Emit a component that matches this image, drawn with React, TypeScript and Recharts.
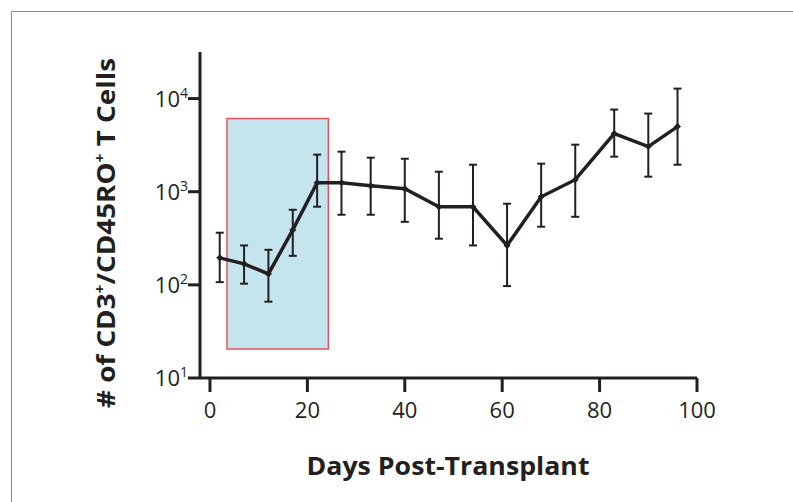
import React from "react";
import { ComposedChart, Line, XAxis, YAxis, ErrorBar, ReferenceArea } from "recharts";

const days = [2, 7, 12, 17, 22, 27, 33, 40, 47, 54, 61, 68, 75, 83, 90, 96];
const cells = [195, 168, 131, 389, 1250, 1250, 1160, 1077, 690, 690, 265, 883, 1346, 4210, 3050, 5000];
const cellsLow = [107, 103, 66, 205, 690, 566, 566, 475, 313, 265, 97, 421, 538, 2377, 1450, 1950];
const cellsHigh = [363, 265, 238, 640, 2500, 2690, 2320, 2260, 1640, 1950, 743, 2000, 3200, 7620, 6900, 12800];

const xTicks = [0, 20, 40, 60, 80, 100];
const yTicks = [10, 100, 1000, 10000];

// shaded treatment window
const windowDays = [3.5, 24.3];
const windowCells = [20.5, 6100];

const INK = "#231f20";
const FONT = "'Open Sans', sans-serif";

const data = days.map((day, i) => ({
  day,
  cells: cells[i],
  err: [cells[i] - cellsLow[i], cellsHigh[i] - cells[i]],
}));

const PowerTick = ({ x, y, payload }: any) => {
  const exp = Math.round(Math.log10(payload.value));
  return (
    <text x={x} y={y} dy={8} textAnchor="end" fill={INK} fontFamily={FONT} fontSize={22}>
      10
      <tspan dy={-9} fontSize={14}>{exp}</tspan>
    </text>
  );
};

const DayTick = ({ x, y, payload }: any) => (
  <text x={x} y={y} dy={24} textAnchor="middle" fill={INK} fontFamily={FONT} fontSize={22}>
    {payload.value}
  </text>
);

const Diamond = ({ cx, cy, index }: any) => (
  <path key={index} d={`M${cx},${cy - 3.5}L${cx + 3.5},${cy}L${cx},${cy + 3.5}L${cx - 3.5},${cy}Z`} fill={INK} />
);

const YTitle = () => (
  <text
    transform="translate(115,233) rotate(-90)"
    textAnchor="middle"
    fill={INK}
    fontFamily={FONT}
    fontWeight={700}
    fontSize={25}
    textLength={350}
    lengthAdjust="spacingAndGlyphs"
  >
    # of CD3<tspan dy={-10} fontSize={14}>+</tspan>
    <tspan dy={10}>/CD45RO</tspan>
    <tspan dy={-10} fontSize={14}>+</tspan>
    <tspan dy={10}> T Cells</tspan>
  </text>
);

const XTitle = () => (
  <text
    x={448}
    y={475}
    textAnchor="middle"
    fill={INK}
    fontFamily={FONT}
    fontWeight={700}
    fontSize={25}
    textLength={283}
    lengthAdjust="spacingAndGlyphs"
  >
    Days Post-Transplant
  </text>
);

export default function App() {
  return (
    <div style={{ position: "absolute", left: 0, top: 0, width: 793, height: 502, background: "#fff" }}>
      <div
        style={{
          position: "absolute",
          left: 11,
          top: 11,
          right: 0,
          bottom: 0,
          borderLeft: "1.5px solid #8c8c8c",
          borderTop: "1.5px solid #8c8c8c",
        }}
      />
      <div style={{ position: "absolute", left: 0, top: 0 }}>
        <ComposedChart width={793} height={502} data={data} margin={{ top: 52, right: 96, left: 0, bottom: 0 }}>
          <XAxis
            dataKey="day"
            type="number"
            domain={[-2.05, 100]}
            ticks={xTicks}
            allowDataOverflow
            height={124}
            tickSize={14}
            tickMargin={2}
            axisLine={{ stroke: INK, strokeWidth: 3 }}
            tickLine={{ stroke: INK, strokeWidth: 3 }}
            tick={<DayTick />}
            label={{ content: () => <XTitle /> }}
          />
          <YAxis
            type="number"
            scale="log"
            domain={[10, 31623]}
            ticks={yTicks}
            allowDataOverflow
            width={200}
            tickSize={12}
            tickMargin={0}
            axisLine={{ stroke: INK, strokeWidth: 3 }}
            tickLine={{ stroke: INK, strokeWidth: 3 }}
            tick={<PowerTick />}
            label={{ content: () => <YTitle /> }}
          />
          <ReferenceArea
            x1={windowDays[0]}
            x2={windowDays[1]}
            y1={windowCells[0]}
            y2={windowCells[1]}
            fill="#c5e5ee"
            fillOpacity={1}
            stroke="#e8525d"
            strokeWidth={1.5}
          />
          <Line
            dataKey="cells"
            type="linear"
            stroke={INK}
            strokeWidth={3.5}
            dot={<Diamond />}
            activeDot={false}
            isAnimationActive={false}
          >
            <ErrorBar dataKey="err" direction="y" width={4} stroke={INK} strokeWidth={2} isAnimationActive={false} />
          </Line>
        </ComposedChart>
      </div>
    </div>
  );
}
